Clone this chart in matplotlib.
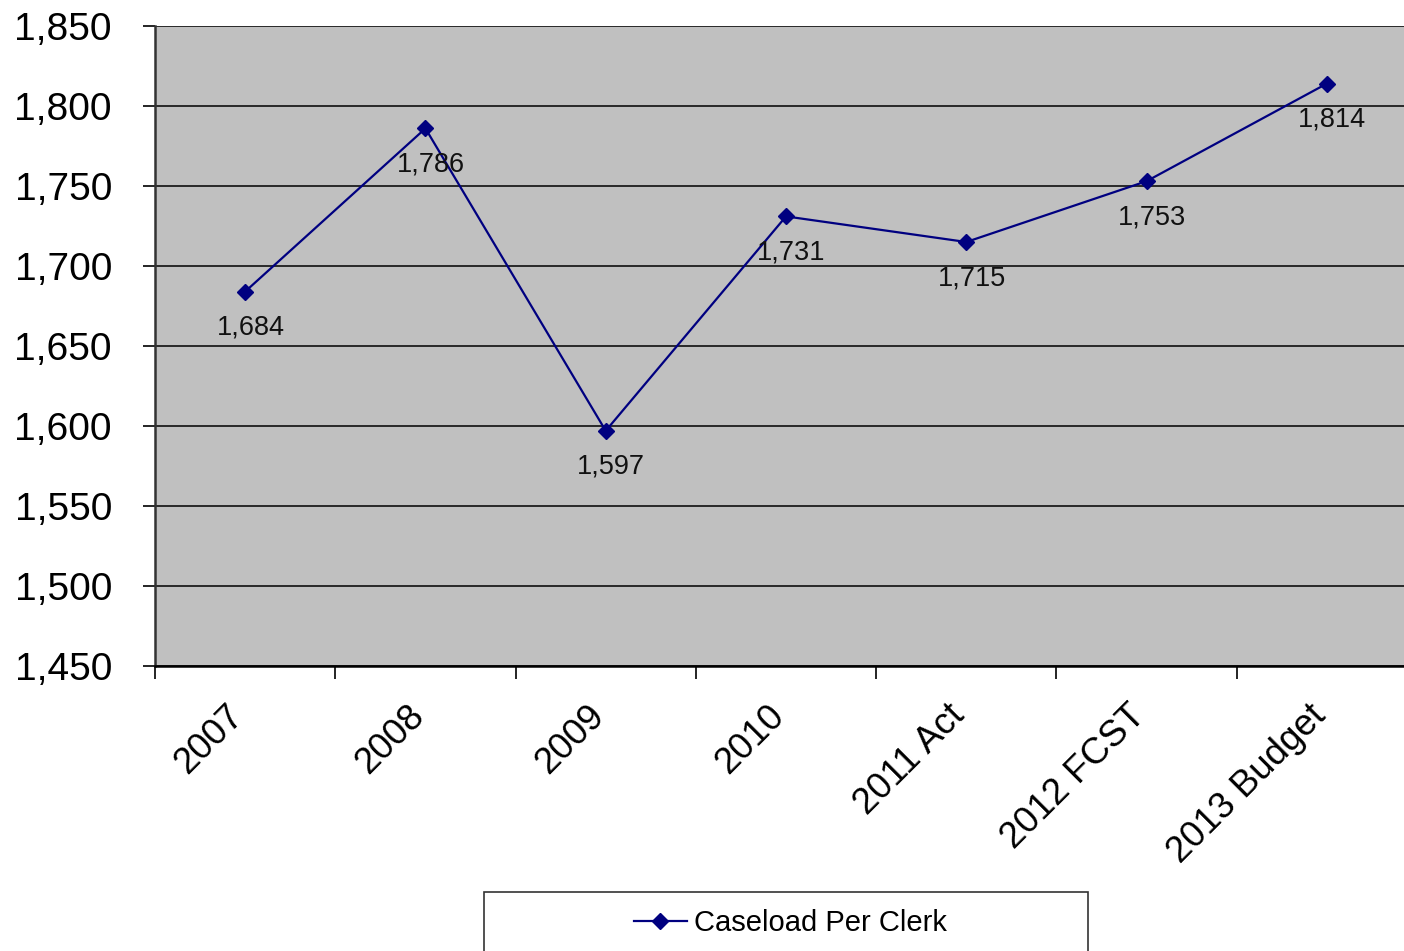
import matplotlib.pyplot as plt
from matplotlib.patches import Rectangle

categories = ["2007", "2008", "2009", "2010", "2011 Act", "2012 FCST", "2013 Budget"]
caseload = [1684, 1786, 1597, 1731, 1715, 1753, 1814]
series_name = "Caseload Per Clerk"

plt.rcParams['font.family'] = ['Liberation Sans', 'DejaVu Sans']

fig = plt.figure(figsize=(14.04, 9.51), dpi=100)
W, H = 1404, 951
# plot area runs past the right edge of the picture, as in the original
ax = fig.add_axes([155 / W, 1 - 666 / H, 1262 / W, 640 / H])
ax.set_facecolor('#C0C0C0')

x = list(range(len(categories)))
line, = ax.plot(x, caseload, color='#000080', lw=1.6, marker='D',
                markersize=8.5, label=series_name, zorder=3, clip_on=False)

for xi, v in zip(x, caseload):
    ax.annotate(f"{v:,}", (xi, v), xytext=(4, -26), textcoords='offset points',
                ha='center', va='center', fontsize=19.5, color='#111111')

ax.set_xlim(-0.5, 6.5)
ax.set_ylim(1450, 1850)
ax.set_yticks(range(1450, 1851, 50))
ax.set_yticklabels([f"{t:,}" for t in range(1450, 1851, 50)], fontsize=28)
ax.yaxis.grid(True, color='black', lw=1.1)
ax.set_axisbelow(True)

ax.set_xticks([i - 0.5 for i in x])
ax.set_xticklabels([])
ax.set_xticks(x, minor=True)
ax.set_xticklabels(categories, minor=True, rotation=45, ha='right',
                   va='baseline', rotation_mode='anchor', fontsize=26.5)
ax.tick_params(axis='x', which='minor', length=0, pad=37)
ax.tick_params(axis='x', which='major', length=9, width=1.2, direction='out')
ax.tick_params(axis='y', length=9, width=1.2, direction='out', pad=22)

for s in ['top', 'right']:
    ax.spines[s].set_visible(False)
ax.spines['left'].set_color('#333333')
ax.spines['left'].set_linewidth(1.8)
ax.spines['bottom'].set_color('black')
ax.spines['bottom'].set_linewidth(1.8)

# legend box, cut by the bottom edge
fig.patches.append(Rectangle((484 / W, -0.02), 604 / W, (1 - 892 / H) + 0.02,
                             transform=fig.transFigure, fill=False,
                             edgecolor='#333333', lw=1.2))
fig.legend(handles=[line], loc='center left', frameon=False,
           bbox_to_anchor=(634 / W, 1 - 923 / H), fontsize=21,
           borderpad=0, borderaxespad=0,
           handlelength=1.8, handletextpad=0.25, markerscale=0.9)

fig.savefig('out.png', dpi=100)
